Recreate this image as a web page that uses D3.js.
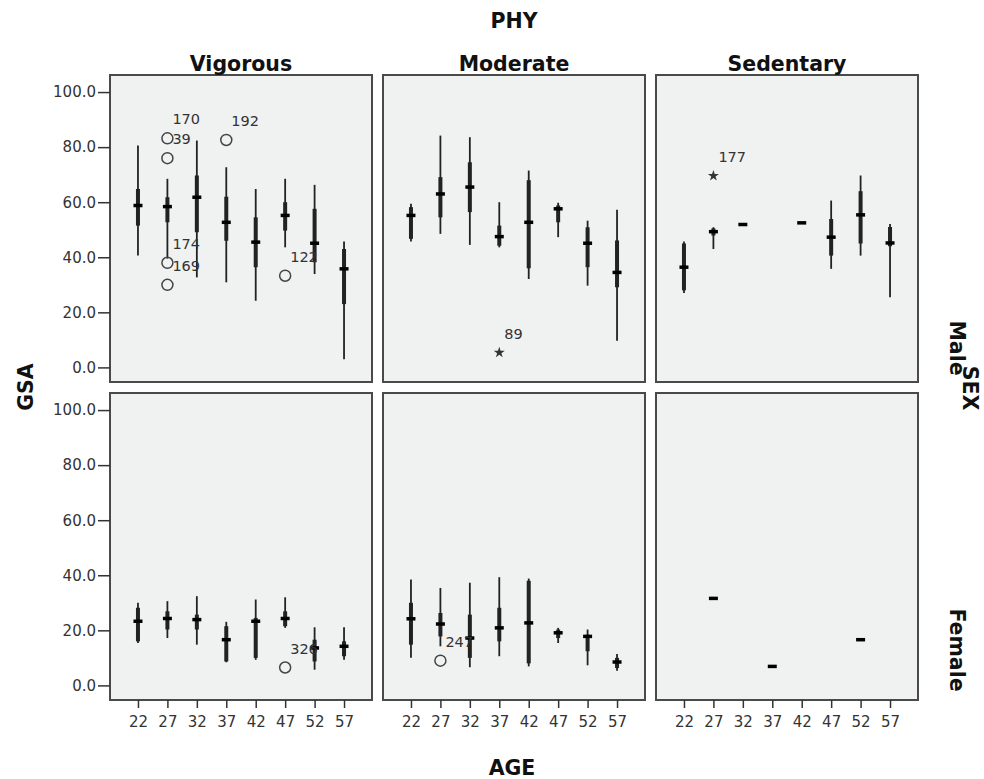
<!DOCTYPE html>
<html>
<head>
<meta charset="utf-8">
<script src="https://cdn.jsdelivr.net/npm/d3@7"></script>
<style>
  body { margin: 0; background: #fff; }
  svg { display: block; }
  .tick text { font-family: "DejaVu Sans", Verdana, sans-serif; font-size: 15px; fill: #333; }
  .tick line { stroke: #333; stroke-width: 1.5; }
  .lbl { font-family: "DejaVu Sans", Verdana, sans-serif; font-weight: bold; font-size: 20.5px; fill: #111; }
  .olab { font-family: "DejaVu Sans", Verdana, sans-serif; font-size: 14.5px; fill: #333; }
</style>
</head>
<body>
<script>
const ages = [22, 27, 32, 37, 42, 47, 52, 57];
const phyLevels = ["Vigorous", "Moderate", "Sedentary"];
const sexLevels = ["Male", "Female"];
const yTicks = [0, 20, 40, 60, 80, 100];

// each age group: [lower whisker, Q1, median, Q3, upper whisker], null = no cases
const vigorousMale = [
  [40.6, 51.5, 58.8, 64.8, 80.6],
  [39.5, 52.7, 58.4, 61.8, 68.5],
  [32.7, 49.1, 61.8, 69.7, 82.4],
  [30.9, 46.0, 52.7, 62.0, 72.7],
  [24.2, 36.4, 45.5, 54.5, 64.8],
  [43.6, 49.7, 55.2, 60.0, 68.5],
  [33.9, 38.2, 45.1, 57.6, 66.3],
  [3.0, 23.0, 35.8, 43.0, 45.7]
];
const moderateMale = [
  [45.7, 46.7, 55.2, 58.2, 59.4],
  [48.5, 54.5, 63.0, 69.1, 84.2],
  [44.5, 56.4, 65.5, 74.5, 83.6],
  [43.6, 44.2, 47.5, 51.5, 60.0],
  [32.1, 36.0, 52.7, 68.0, 71.5],
  [47.3, 52.7, 57.6, 58.8, 59.8],
  [29.7, 36.4, 45.1, 50.9, 53.3],
  [9.7, 29.1, 34.5, 46.1, 57.3]
];
const sedentaryMale = [
  [27.0, 28.0, 36.4, 45.0, 45.7],
  [43.0, 47.9, 49.3, 50.5, 50.9],
  [51.9, 51.9, 51.9, 51.9, 51.9],
  null,
  [52.5, 52.5, 52.5, 52.5, 52.5],
  [35.8, 40.6, 47.3, 53.9, 60.6],
  [40.6, 45.0, 55.4, 64.0, 69.7],
  [25.5, 44.0, 45.2, 51.0, 52.1]
];
const vigorousFemale = [
  [15.4, 16.0, 23.3, 28.2, 30.0],
  [17.2, 20.3, 24.3, 26.9, 30.6],
  [14.8, 20.3, 23.9, 25.7, 32.4],
  [8.4, 8.7, 16.6, 21.5, 23.1],
  [9.3, 10.0, 23.3, 24.5, 31.2],
  [20.9, 21.5, 24.3, 26.9, 32.0],
  [5.7, 8.7, 13.6, 16.6, 21.1],
  [9.3, 10.6, 14.2, 16.0, 21.1]
];
const moderateFemale = [
  [10.0, 14.8, 24.2, 30.0, 38.5],
  [14.2, 17.8, 22.3, 26.3, 35.4],
  [6.6, 10.0, 17.2, 25.7, 37.3],
  [10.6, 16.0, 20.9, 28.2, 39.3],
  [6.9, 8.0, 22.7, 38.0, 38.8],
  [15.4, 17.2, 19.1, 20.3, 20.9],
  [7.3, 12.4, 17.8, 18.4, 20.3],
  [5.3, 6.3, 8.5, 10.0, 11.4]
];
const sedentaryFemale = [
  null,
  [31.6, 31.6, 31.6, 31.6, 31.6],
  null,
  [6.9, 6.9, 6.9, 6.9, 6.9],
  null,
  null,
  [16.6, 16.6, 16.6, 16.6, 16.6],
  null
];

// outliers (circle) and extremes (star) with case numbers
const outliers = [
  { phy: "Vigorous", sex: "Male", age: 27, v: 83.2, id: "170", kind: "o" },
  { phy: "Vigorous", sex: "Male", age: 27, v: 76.0, id: "39", kind: "o" },
  { phy: "Vigorous", sex: "Male", age: 27, v: 38.0, id: "174", kind: "o" },
  { phy: "Vigorous", sex: "Male", age: 27, v: 30.0, id: "169", kind: "o" },
  { phy: "Vigorous", sex: "Male", age: 37, v: 82.6, id: "192", kind: "o" },
  { phy: "Vigorous", sex: "Male", age: 47, v: 33.3, id: "122", kind: "o" },
  { phy: "Moderate", sex: "Male", age: 37, v: 5.4, id: "89", kind: "*" },
  { phy: "Sedentary", sex: "Male", age: 27, v: 69.6, id: "177", kind: "*" },
  { phy: "Vigorous", sex: "Female", age: 47, v: 6.5, id: "326", kind: "o" },
  { phy: "Moderate", sex: "Female", age: 27, v: 9.0, id: "247", kind: "o" }
];

const stats = {
  Vigorous: { Male: vigorousMale, Female: vigorousFemale },
  Moderate: { Male: moderateMale, Female: moderateFemale },
  Sedentary: { Male: sedentaryMale, Female: sedentaryFemale }
};

const w = 984, h = 779;
const panelX = [110, 383, 656], panelW = 262;
const rowY = [75, 393], panelH = 307;

const svg = d3.select('body').append('svg').attr('width', w).attr('height', h);

const yScales = rowY.map(top => d3.scaleLinear().domain([-5.3, 106.2]).range([top + panelH, top]));
const xScales = panelX.map(left => d3.scalePoint().domain(ages).range([left, left + panelW]).padding(0.95));

sexLevels.forEach((s, r) => {
  const y = yScales[r];
  phyLevels.forEach((p, c) => {
    const x = xScales[c];
    const g = svg.append('g');
    g.append('rect')
      .attr('x', panelX[c]).attr('y', rowY[r])
      .attr('width', panelW).attr('height', panelH)
      .attr('fill', '#f0f1f1').attr('stroke', '#4a4a4a').attr('stroke-width', 2);

    const rows = ages.map((a, i) => ({ age: a, s: stats[p][s][i] })).filter(d => d.s);

    // whiskers
    g.selectAll('line.wh').data(rows).enter().append('line')
      .attr('x1', d => x(d.age)).attr('x2', d => x(d.age))
      .attr('y1', d => y(d.s[0])).attr('y2', d => y(d.s[4]))
      .attr('stroke', '#222').attr('stroke-width', 1.8);
    // boxes (very narrow, SPSS style)
    g.selectAll('rect.bx').data(rows.filter(d => d.s[3] > d.s[1])).enter().append('rect')
      .attr('x', d => x(d.age) - 2).attr('width', 4)
      .attr('y', d => y(d.s[3])).attr('height', d => y(d.s[1]) - y(d.s[3]))
      .attr('fill', '#222');
    // medians
    g.selectAll('line.md').data(rows).enter().append('line')
      .attr('x1', d => x(d.age) - 4.5).attr('x2', d => x(d.age) + 4.5)
      .attr('y1', d => y(d.s[2])).attr('y2', d => y(d.s[2]))
      .attr('stroke', '#000').attr('stroke-width', 3.5);

    const outs = outliers.filter(o => o.phy === p && o.sex === s);
    g.selectAll('circle.out').data(outs.filter(o => o.kind === 'o')).enter().append('circle')
      .attr('cx', d => x(d.age)).attr('cy', d => y(d.v)).attr('r', 5.5)
      .attr('fill', 'none').attr('stroke', '#444').attr('stroke-width', 1.5);
    g.selectAll('path.ext').data(outs.filter(o => o.kind === '*')).enter().append('path')
      .attr('d', d3.symbol(d3.symbolStar).size(38))
      .attr('transform', d => 'translate(' + x(d.age) + ',' + y(d.v) + ')')
      .attr('fill', '#333');
    g.selectAll('text.olab').data(outs).enter().append('text')
      .attr('class', 'olab')
      .attr('x', d => x(d.age) + 5).attr('y', d => y(d.v) - 19)
      .attr('dy', '0.35em')
      .text(d => d.id);

    if (r === 1) {
      svg.append('g')
        .attr('transform', 'translate(0,' + (rowY[r] + panelH) + ')')
        .call(d3.axisBottom(x).tickSize(8).tickPadding(8))
        .call(a => a.select('.domain').remove());
    }
    if (r === 0) {
      svg.append('text').attr('class', 'lbl')
        .attr('x', panelX[c] + panelW / 2).attr('y', 71)
        .attr('text-anchor', 'middle').text(p);
    }
  });

  svg.append('g')
    .attr('transform', 'translate(' + panelX[0] + ',0)')
    .call(d3.axisLeft(y).tickValues(yTicks).tickFormat(d3.format('.1f')).tickSize(12).tickPadding(2))
    .call(a => a.select('.domain').remove());
});

// titles
svg.append('text').attr('class', 'lbl').attr('x', panelX[1] + panelW / 2).attr('y', 28)
  .attr('text-anchor', 'middle').text('PHY');
svg.append('text').attr('class', 'lbl').attr('x', 512).attr('y', 775)
  .attr('text-anchor', 'middle').text('AGE');
svg.append('text').attr('class', 'lbl').attr('text-anchor', 'middle')
  .attr('transform', 'translate(33,387) rotate(-90)').text('GSA');
svg.append('text').attr('class', 'lbl').attr('text-anchor', 'middle')
  .attr('transform', 'translate(950,348) rotate(90)').text('Male');
svg.append('text').attr('class', 'lbl').attr('text-anchor', 'middle')
  .attr('transform', 'translate(963,388) rotate(90)').text('SEX');
svg.append('text').attr('class', 'lbl').attr('text-anchor', 'middle')
  .attr('transform', 'translate(950,650) rotate(90)').text('Female');
</script>
</body>
</html>
